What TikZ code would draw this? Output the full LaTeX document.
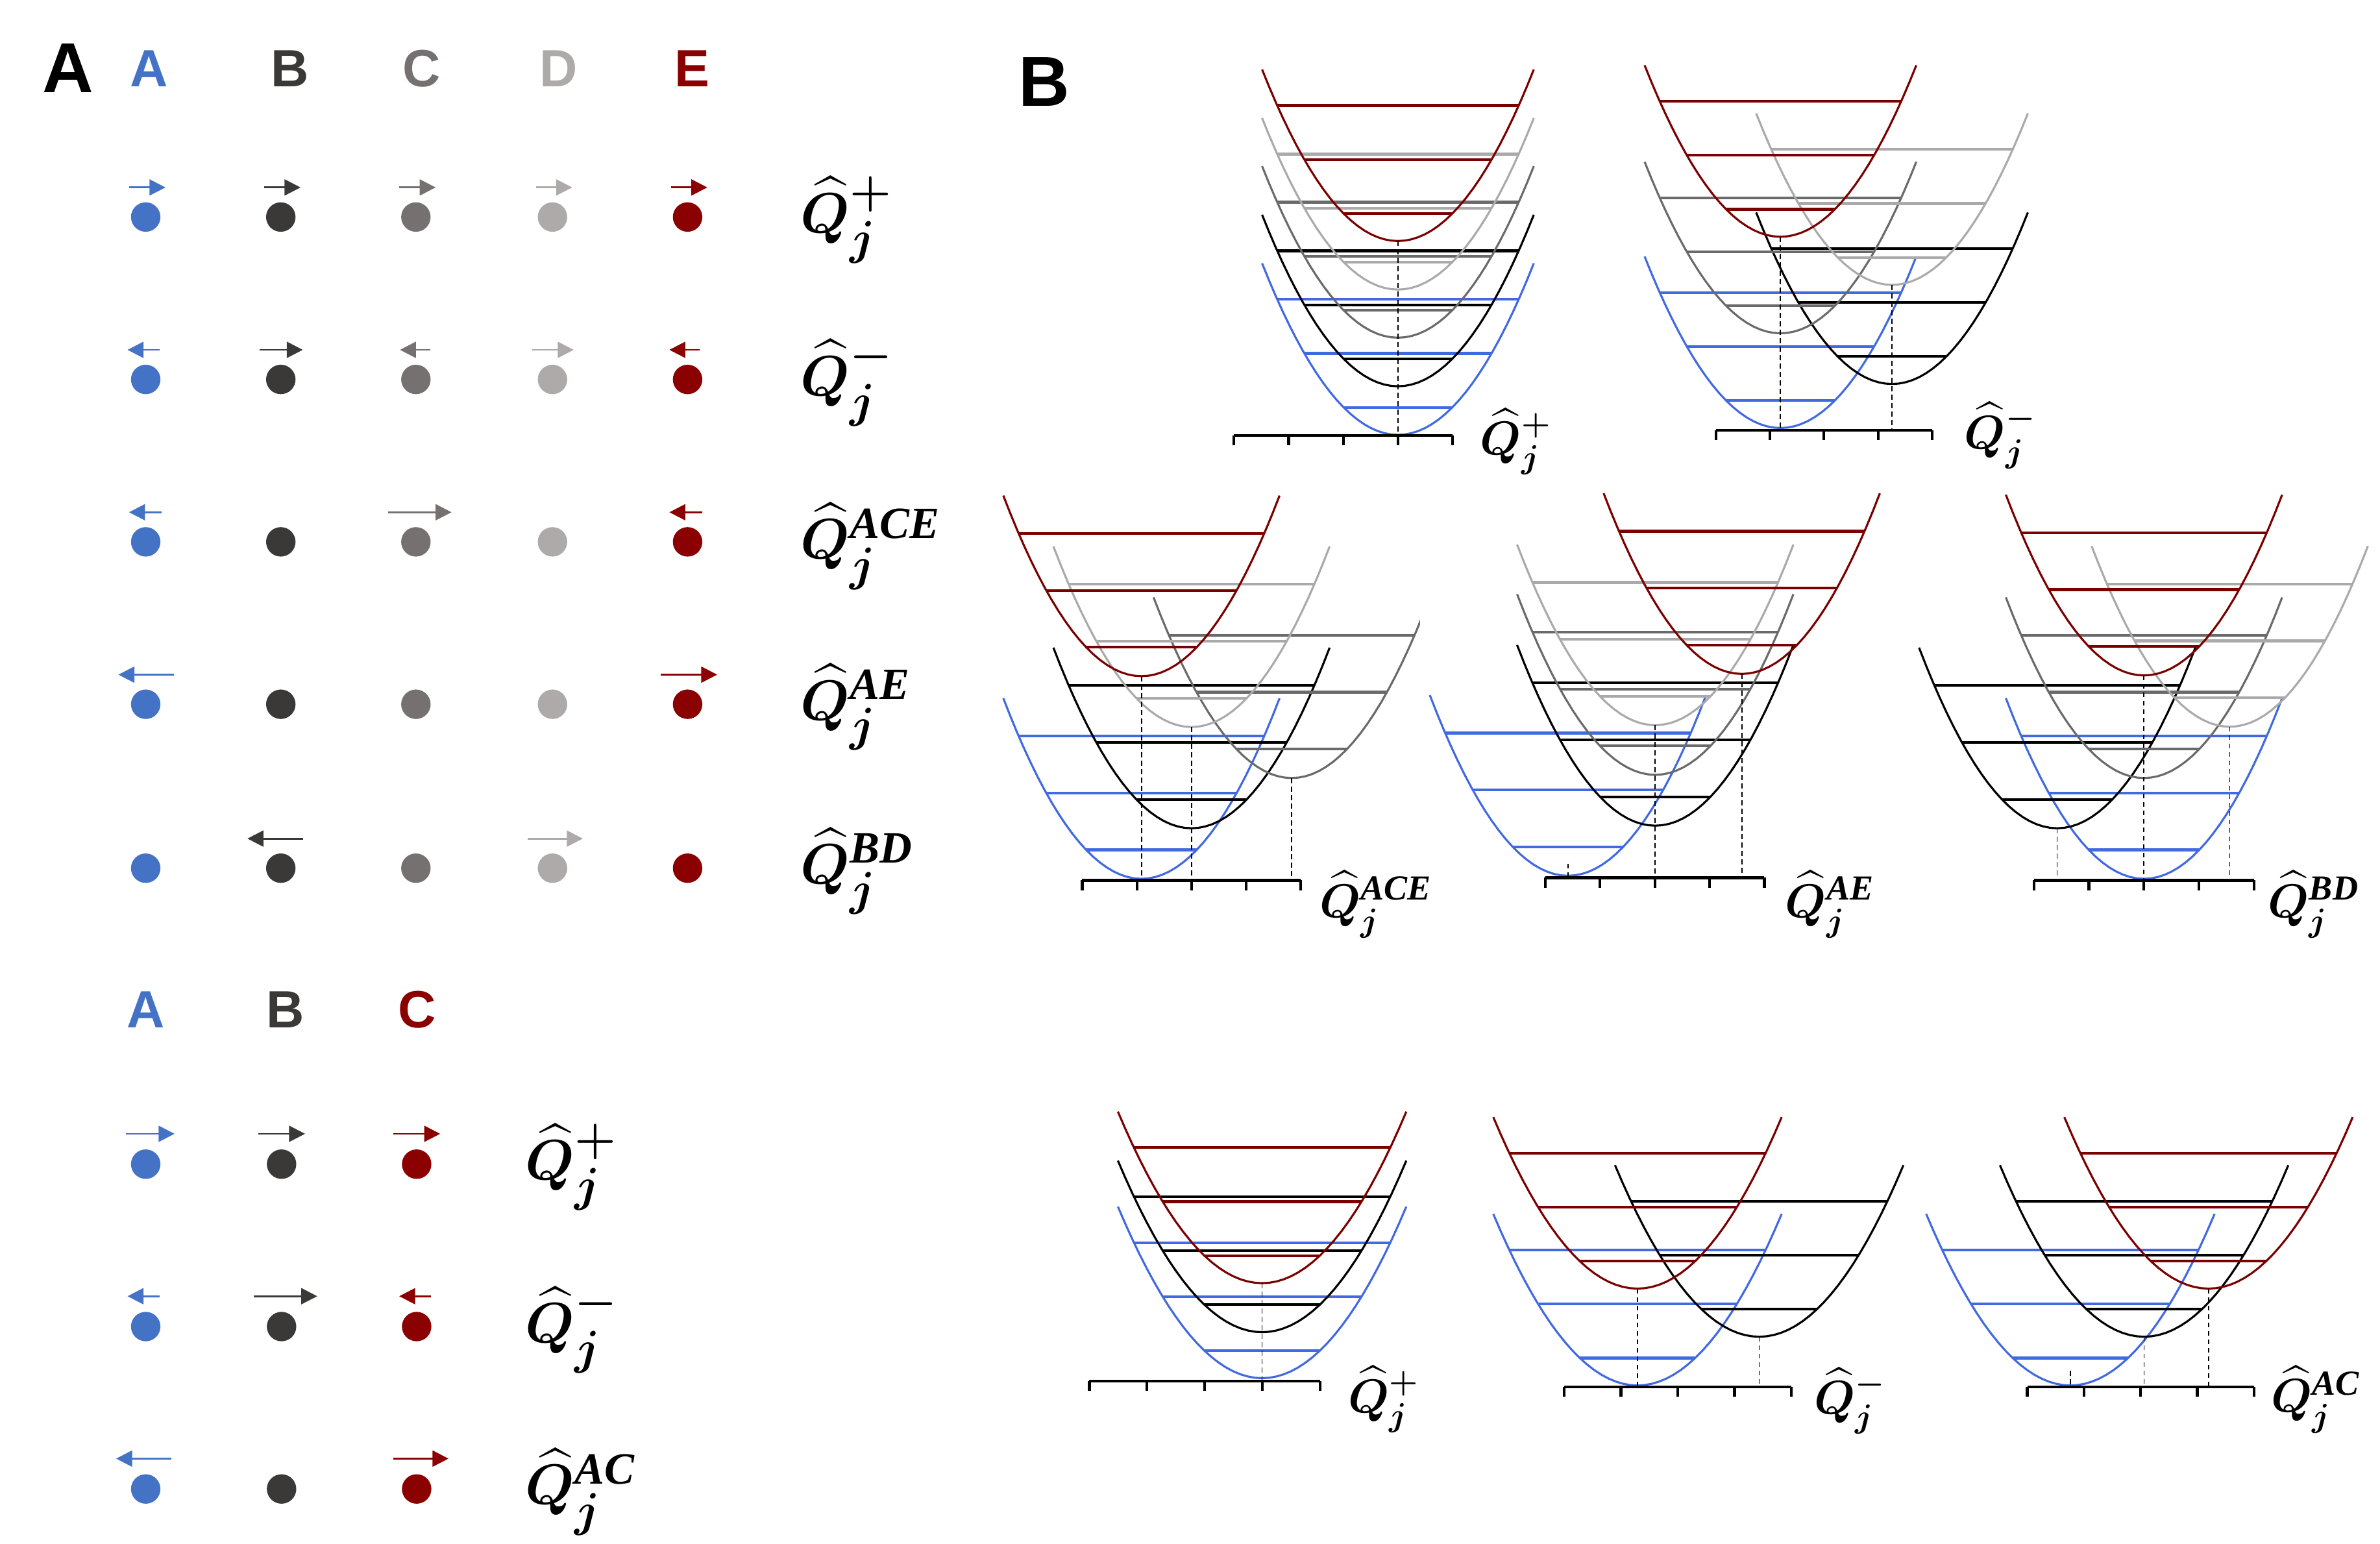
\documentclass[tikz,border=0pt]{standalone}
\usepackage{amsmath}
\usepackage{fontspec}
\setmainfont{Liberation Serif}
\setsansfont{Liberation Sans}
\usetikzlibrary{arrows.meta}
\definecolor{aBlue}{HTML}{4472C4}
\definecolor{aDark}{HTML}{3B3838}
\definecolor{aGray}{HTML}{767171}
\definecolor{aLight}{HTML}{AEAAAA}
\definecolor{aRed}{HTML}{8B0000}
\definecolor{wBlue}{HTML}{4169E1}
\definecolor{wDark}{HTML}{6A6A6A}
\definecolor{wLight}{HTML}{AAAAAA}
\definecolor{wRed}{HTML}{7A0000}

% one potential well with three levels: colour, x and y of the minimum
\newcommand{\well}[3]{%
  \draw[curve,#1] plot[domain=-\wellw:\wellw,samples=41]
    ({#2+\x},{#3-\wellh*(\x/\wellw)*(\x/\wellw)});
  \foreach \f in {0.16,0.475,0.79}
    \draw[level,#1] ({#2-\wellw*sqrt(\f)},{#3-\wellh*\f}) -- ({#2+\wellw*sqrt(\f)},{#3-\wellh*\f});
}
% coordinate axis: first tick, height, tick spacing
\newcommand{\qaxis}[3]{%
  \draw[axisline] (#1,#2) -- ({#1+4*#3},#2);
  \foreach \k in {0,...,4}
    \draw[axisline] ({#1+\k*#3},#2) -- ++(0,6.5);
}
% mode superscript
\newcommand{\msup}[1]{\text{\bfseries\itshape #1}}

\begin{document}
\begin{tikzpicture}[x=0.02339cm,y=-0.02339cm,
  panel/.style={font=\sffamily\bfseries\fontsize{31}{31}\selectfont},
  hdr/.style={font=\sffamily\bfseries\fontsize{23}{23}\selectfont},
  qa/.style={anchor=west,font=\fontsize{28}{28}\selectfont\boldmath},
  qb/.style={anchor=west,font=\fontsize{22}{22}\selectfont\boldmath},
  vib/.style={line width=0.8pt,-{Triangle[length=7pt,width=7pt]}},
  curve/.style={line width=0.9pt},
  level/.style={line width=1.2pt},
  axisline/.style={line width=1.2pt},
  drop/.style={line width=0.5pt,dash pattern=on 2.2pt off 1.5pt}]
\useasboundingbox (0,0) rectangle (1568,1017);

% ---------------- A: normal modes
\node[panel] (pA) at (45,45) {A};
\foreach \c/\t/\x in {aBlue/A/98,aDark/B/191,aGray/C/278,aLight/D/368,aRed/E/456}
  \node[hdr,text=\c] (h5\t) at (\x,45) {\t};
\foreach \y in {143,250,357,464,572}
  \foreach \c/\x in {aBlue/96,aDark/185,aGray/274,aLight/364,aRed/453}
    \fill[\c] (\x,\y) circle (9.7);
\foreach \c/\x/\y/\a/\b in {aBlue/96/143/-11/13,aDark/185/143/-11/13,aGray/274/143/-11/13,
    aLight/364/143/-11/13,aRed/453/143/-11/13,
    aBlue/96/250/9/-12,aDark/185/250/-14/14.5,aGray/274/250/9.5/-10.5,
    aLight/364/250/-13.5/14,aRed/453/250/8/-12,
    aBlue/96/357/10.5/-11,aGray/274/357/-18.5/23.5,aRed/453/357/9.5/-12,
    aBlue/96/464/18.5/-18,aRed/453/464/-17.5/19.5,
    aDark/185/572/14.5/-22,aLight/364/572/-16.5/20}
  \draw[vib,\c] ({\x+\a},\y-19.5) -- ({\x+\b},\y-19.5);
\node[qa] (q5p) at (522,145) {$\widehat{Q}_j^{+}$};
\node[qa] (q5m) at (522,252) {$\widehat{Q}_j^{-}$};
\node[qa] (q5ace) at (522,360) {$\widehat{Q}_j^{\msup{ACE}}$};
\node[qa] (q5ae) at (522,466) {$\widehat{Q}_j^{\msup{AE}}$};
\node[qa] (q5bd) at (522,574) {$\widehat{Q}_j^{\msup{BD}}$};

\foreach \c/\t/\x in {aBlue/A/96,aDark/B/188,aRed/C/275}
  \node[hdr,text=\c] (h3\t) at (\x,665) {\t};
\foreach \y in {767,874,981}
  \foreach \c/\x in {aBlue/96,aDark/185.5,aRed/274.5}
    \fill[\c] (\x,\y) circle (9.7);
\foreach \c/\x/\y/\a/\b in {aBlue/96/767/-13/19,aDark/185.5/767/-15.5/15.5,aRed/274.5/767/-15.5/15.5,
    aBlue/96/874/9/-12,aDark/185.5/874/-18.5/23.5,aRed/274.5/874/9.5/-11.5,
    aBlue/96/981/17/-19.5,aRed/274.5/981/-15.5/21}
  \draw[vib,\c] ({\x+\a},\y-20) -- ({\x+\b},\y-20);
\node[qa] (q3p) at (341,769) {$\widehat{Q}_j^{+}$};
\node[qa] (q3m) at (341,876) {$\widehat{Q}_j^{-}$};
\node[qa] (q3ac) at (341,983) {$\widehat{Q}_j^{\msup{AC}}$};

% ---------------- B: potential wells
\node[panel] (pB) at (688,54) {B};

% top row
\def\wellw{89.5}\def\wellh{113}
\well{wBlue}{921}{286.5}
\well{black}{921}{254.5}
\well{wDark}{921}{222.5}
\well{wLight}{921}{190.8}
\well{wRed}{921}{158.8}
\draw[drop] (921,158.8) -- (921,287);
\qaxis{813}{287}{36}
\node[qb] (b5p) at (970,291) {$\widehat{Q}_j^{+}$};

\well{wBlue}{1173}{282}
\well{black}{1246.5}{253}
\well{wDark}{1173}{219.6}
\well{wLight}{1246.5}{187.7}
\well{wRed}{1173}{156}
\draw[drop] (1173,156) -- (1173,283.5);
\draw[drop] (1246.5,187.7) -- (1246.5,283.5);
\qaxis{1130.5}{283.5}{35.6}
\node[qb] (b5m) at (1289,287) {$\widehat{Q}_j^{-}$};

% middle row
\def\wellw{91}\def\wellh{119}
\begin{scope}
\clip (640,300) rectangle (935.5,640);
\well{wBlue}{752}{579}
\well{black}{785}{545.7}
\well{wDark}{851}{512.6}
\well{wLight}{785}{479}
\well{wRed}{752}{445.5}
\end{scope}
\draw[drop] (752,445.5) -- (752,580);
\draw[drop] (785,479) -- (785,580);
\draw[drop] (851,512.6) -- (851,580);
\qaxis{713}{580}{36}
\node[qb] (b5ace) at (864,596) {$\widehat{Q}_j^{\msup{ACE}}$};

\well{wBlue}{1033}{577}
\well{black}{1090.5}{544}
\well{wDark}{1090.5}{510.5}
\well{wLight}{1090.5}{477.8}
\well{wRed}{1147.5}{444}
\draw[drop] (1033,569) -- (1033,578.3);
\draw[drop] (1090.5,477.8) -- (1090.5,578.3);
\draw[drop] (1147.5,444) -- (1147.5,578.3);
\qaxis{1018}{578.3}{36.1}
\node[qb] (b5ae) at (1171,596) {$\widehat{Q}_j^{\msup{AE}}$};

\well{wBlue}{1412.5}{579}
\well{black}{1355.3}{545.7}
\well{wDark}{1412.5}{512.6}
\well{wLight}{1469}{478.8}
\well{wRed}{1412.5}{445}
\draw[drop] (1355.3,545.7) -- (1355.3,580);
\draw[drop] (1412.5,445) -- (1412.5,580);
\draw[drop] (1469,478.8) -- (1469,580);
\qaxis{1340}{580}{36.25}
\node[qb] (b5bd) at (1489,596) {$\widehat{Q}_j^{\msup{BD}}$};

% bottom row
\def\wellw{95}\def\wellh{113}
\well{wBlue}{831.5}{908}
\well{black}{831.5}{877.7}
\well{wRed}{831.5}{845.4}
\draw[drop] (831.5,845.4) -- (831.5,909.8);
\qaxis{717.7}{909.8}{38}
\node[qb] (b3p) at (883,922) {$\widehat{Q}_j^{+}$};

\well{wBlue}{1078.8}{912.8}
\well{black}{1159}{880.7}
\well{wRed}{1078.8}{849}
\draw[drop] (1078.8,849) -- (1078.8,913.8);
\draw[drop] (1159,880.7) -- (1159,913.8);
\qaxis{1030.5}{913.8}{37.4}
\node[qb] (b3m) at (1190,923) {$\widehat{Q}_j^{-}$};

\well{wBlue}{1364}{912.8}
\well{black}{1412.6}{880.7}
\well{wRed}{1455}{849}
\draw[drop] (1364,903) -- (1364,913.8);
\draw[drop] (1412.6,880.7) -- (1412.6,913.8);
\draw[drop] (1455,849) -- (1455,913.8);
\qaxis{1335.6}{913.8}{37.35}
\node[qb] (b3ac) at (1491,922) {$\widehat{Q}_j^{\msup{AC}}$};
\end{tikzpicture}
\end{document}
